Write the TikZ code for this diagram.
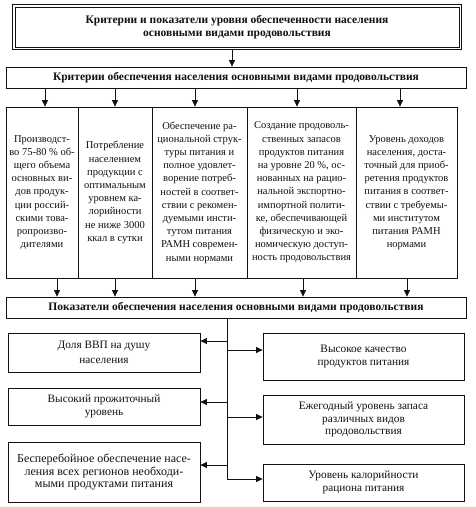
\documentclass[tikz,border=0pt]{standalone}
\usepackage{fontspec}
\setmainfont{Liberation Serif}
\usetikzlibrary{arrows.meta,fit,positioning}
\definecolor{ink}{HTML}{111111}
\tikzset{
  basebox/.style={draw=ink,line width=0.8pt,fill=white,align=center,text=ink,inner sep=2pt},
  headbox/.style={basebox,font=\fontsize{11.5}{13}\selectfont\bfseries},
  colbox/.style={basebox,minimum height=171pt,font=\fontsize{10.5}{13.2}\selectfont},
  sidebox/.style={basebox,font=\fontsize{11.3}{13}\selectfont},
  arrow/.style={-{Triangle[length=6.5pt,width=6pt]},line width=0.9pt,draw=ink},
  trunk/.style={line width=0.9pt,draw=ink}
}

\begin{document}
\begin{tikzpicture}[x=1pt,y=-1pt]
  \useasboundingbox[fill=white] (0,0) rectangle (475,507);
  % heading with double frame
  \node[headbox,minimum width=444pt,minimum height=40pt] (hdr) at (237,27) {Критерии и показатели уровня обеспеченности населения\\основными видами продовольствия};
  \node[draw=ink,line width=1.6pt,inner sep=2pt,fit=(hdr)] (hdrframe) {};
  \node[headbox,minimum width=460pt,minimum height=21pt] (crit) at (236,77.5) {Критерии обеспечения населения основными видами продовольствия};
  \draw[arrow] ([xshift=-5pt]hdrframe.south) -- ([xshift=-5pt]hdrframe.south |- crit.north);

  % criteria columns
  \node[colbox,minimum width=72pt] (c1) at (42,192.5) {Производст-\\во 75-80 \% об-\\щего объема\\основных ви-\\дов продук-\\ции россий-\\скими това-\\ропроизво-\\дителями};
  \node[colbox,minimum width=74pt,right=-0.8pt of c1] (c2) {Потребление\\населением\\продукции с\\оптимальным\\уровнем ка-\\лорийности\\не ниже 3000\\ккал в сутки};
  \node[colbox,minimum width=95pt,right=-0.8pt of c2] (c3) {Обеспечение ра-\\циональной струк-\\туры питания и\\полное удовлет-\\ворение потреб-\\ностей в соответ-\\ствии с рекомен-\\дуемыми инсти-\\тутом питания\\РАМН современ-\\ными нормами};
  \node[colbox,minimum width=109pt,right=-0.8pt of c3] (c4) {Создание продоволь-\\ственных запасов\\продуктов питания\\на уровне 20 \%, ос-\\нованных на рацио-\\нальной экспортно-\\импортной полити-\\ке, обеспечивающей\\физическую и эко-\\номическую доступ-\\ность продовольствия};
  \node[colbox,minimum width=101pt,right=-0.8pt of c4] (c5) {Уровень доходов\\населения, доста-\\точный для приоб-\\ретения продуктов\\питания в соответ-\\ствии с требуемы-\\ми институтом\\питания РАМН\\нормами};

  \node[headbox,minimum width=460pt,minimum height=21pt] (ind) at (236,307.5) {Показатели обеспечения населения основными видами продовольствия};

  \foreach \c/\a/\b in {c1/3/15,c2/0/0,c3/-4.5/-4.5,c4/-4.5/1.5,c5/-6.5/0.5} {
    \draw[arrow] ([xshift=\a pt]\c.north |- crit.south) -- ([xshift=\a pt]\c.north);
    \draw[arrow] ([xshift=\b pt]\c.south) -- ([xshift=\b pt]\c.south |- ind.north);
  }

  % indicators
  \node[sidebox,minimum width=192pt,minimum height=39pt,font=\fontsize{11.3}{15}\selectfont] (L1) at (104,352.5) {Доля ВВП на душу\\населения};
  \node[sidebox,minimum width=192pt,minimum height=37pt] (L2) at (104,406.5) {Высокий прожиточный\\уровень};
  \node[sidebox,minimum width=192pt,minimum height=60pt,font=\fontsize{12}{12.5}\selectfont] (L3) at (104,472) {Бесперебойное обеспечение насе-\\ления всех регионов необходи-\\мыми продуктами питания};
  \node[sidebox,minimum width=201pt,minimum height=47pt] (R1) at (363.5,356.5) {Высокое качество\\продуктов питания};
  \node[sidebox,minimum width=201pt,minimum height=49pt,font=\fontsize{11.3}{12.5}\selectfont] (R2) at (363.5,419.5) {Ежегодный уровень запаса\\различных видов\\продовольствия};
  \node[sidebox,minimum width=201pt,minimum height=37pt] (R3) at (363.5,482.5) {Уровень калорийности\\рациона питания};

  \coordinate (tbot) at (227,479);
  \draw[trunk] (tbot |- ind.south) -- (tbot);
  \foreach \n/\s in {L1/11.5,L2/4.5,L3/7}
    \draw[arrow] ([yshift=\s pt]\n.east -| tbot) -- ([yshift=\s pt]\n.east);
  \foreach \n/\s in {R1/6.5,R2/2.5,R3/3.5}
    \draw[arrow] ([yshift=\s pt]\n.west -| tbot) -- ([yshift=\s pt]\n.west);
\end{tikzpicture}
\end{document}
